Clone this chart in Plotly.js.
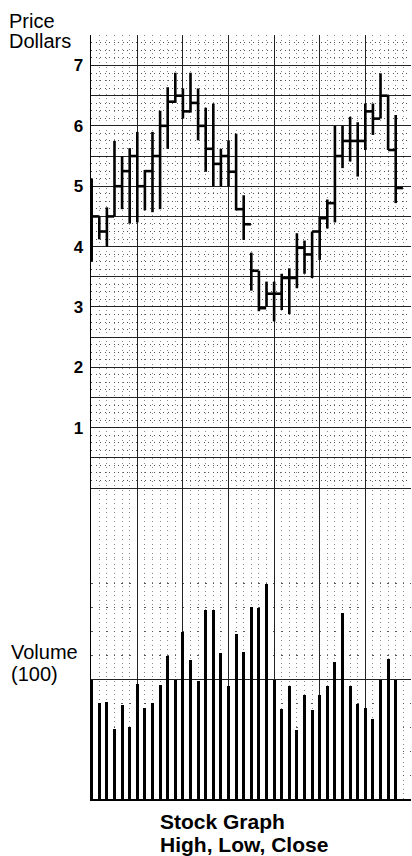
<!DOCTYPE html>
<html><head><meta charset="utf-8">
<script src="https://cdn.plot.ly/plotly-3.0.1.min.js"></script>
<style>html,body{margin:0;padding:0;background:#fff}#chart{width:412px;height:856px}</style>
</head><body><div id="chart"></div>
<script>
// ---- data ----
const days = [0,1,2,3,4,5,6,7,8,9,10,11,12,13,14,15,16,17,18,19,20,21,22,23,24,25,26,27,28,29,30,31,32,33,34,35,36,37,38,39,40];
const highs = [5.13,4.5,4.65,5.75,5.5,5.63,5.9,5.27,5.9,6.25,6.64,6.88,6.62,6.88,6.62,6.3,6.37,5.62,5.76,5.87,4.85,3.9,3.6,3.42,3.42,3.55,3.64,4.22,4.1,4.25,4.5,4.78,6.0,6.0,6.15,6.06,6.37,6.37,6.87,6.5,6.18];
const lows = [3.75,4.12,4.0,4.5,4.62,4.38,4.4,4.6,4.57,4.62,5.62,6.38,6.12,6.22,5.76,5.24,5.0,5.0,5.0,4.6,4.11,3.27,2.93,3.0,2.76,2.95,2.88,3.31,3.55,3.48,3.78,4.3,4.4,5.3,5.41,5.16,5.6,5.85,6.12,5.6,4.72];
const closes = [4.5,4.25,4.5,5.0,5.25,5.5,5.0,5.25,5.5,6.0,6.4,6.5,6.24,6.38,6.0,5.62,5.37,5.5,5.24,4.62,4.37,3.6,2.98,3.22,3.22,3.48,3.48,3.98,3.87,4.25,4.47,4.72,5.5,5.75,5.75,5.75,6.24,6.12,6.5,5.6,4.97];
const volumes = [4.95,4.0,4.05,2.93,3.9,3.0,4.78,3.8,4.0,4.74,5.95,4.95,6.97,5.79,4.92,7.9,7.88,6.07,4.7,6.87,6.13,7.99,7.95,8.95,4.95,3.77,4.7,2.86,4.32,3.72,4.35,4.7,5.72,7.77,4.7,3.95,3.8,3.32,4.95,5.86,4.95];
const priceLabels = ['1','2','3','4','5','6','7'];
const titleLines = ['Stock Graph','High, Low, Close'];

// ---- build high-low-close bars ----
const CLOSE_TICK = 0.95;
const bx = [], by = [];
for (let i = 0; i < days.length; i++) {
  bx.push(days[i], days[i], null, days[i], days[i] + CLOSE_TICK, null);
  by.push(lows[i], highs[i], null, closes[i], closes[i], null);
}

// grid helpers (axis configuration)
const priceMajor = [], priceMajorText = [], priceMinor = [];
for (let v = 0; v <= 7.5001; v += 0.5) {
  priceMajor.push(v);
  const r = Math.round(v);
  priceMajorText.push(Math.abs(v - r) < 1e-9 && r >= 1 && r <= 7 ? priceLabels[r - 1] : '');
}
for (let v = 0.125; v < 7.5; v += 0.125) {
  if (Math.abs(v * 2 - Math.round(v * 2)) > 1e-6) priceMinor.push(+v.toFixed(3));
}

const font = 'Liberation Sans, Arial, Helvetica, sans-serif';
const dotColor = '#555';

const traces = [
  {type:'scatter', mode:'lines', x:bx, y:by, xaxis:'x', yaxis:'y',
   line:{color:'#000', width:2.6}, connectgaps:false, hoverinfo:'skip', showlegend:false},
  {type:'bar', x:days, y:volumes, xaxis:'x', yaxis:'y2', width:0.4,
   marker:{color:'#000', line:{width:0}}, showlegend:false}
];

const volDomainTop = 240/764;

const layout = {
  width:412, height:856,
  margin:{l:91, r:1, t:35, b:57},
  paper_bgcolor:'#fff', plot_bgcolor:'#fff',
  showlegend:false,
  bargap:0,
  xaxis:{domain:[0,1], anchor:'y2', range:[-0.09, 42.01],
    tickmode:'linear', tick0:0, dtick:6, showticklabels:false, ticks:'',
    showgrid:true, gridcolor:'#222', gridwidth:1, zeroline:false,
    showline:true, linecolor:'#000', linewidth:1.5,
    minor:{tickmode:'linear', tick0:0, dtick:1, showgrid:true, gridcolor:'#8a8a8a', gridwidth:1, griddash:'1px,3.5px'}},
  yaxis:{domain:[volDomainTop,1], anchor:'x', range:[-1.175, 7.505],
    tickmode:'array', tickvals:priceMajor, ticktext:priceMajorText, ticks:'',
    ticklabelstandoff:3,
    tickfont:{family:font, size:17, color:'#000', weight:700},
    showgrid:true, gridcolor:'#222', gridwidth:1, zeroline:false,
    showline:true, linecolor:'#000', linewidth:1.5,
    minor:{tickmode:'array', tickvals:priceMinor, showgrid:true, gridcolor:dotColor, gridwidth:1, griddash:'1px,3.5px'}},
  yaxis2:{domain:[0,volDomainTop], anchor:'x', range:[0, 10.01],
    tickmode:'array', tickvals:[0,5,10], showticklabels:false, ticks:'',
    showgrid:true, gridcolor:'#222', gridwidth:1, zeroline:false,
    showline:true, linecolor:'#000', linewidth:1.5,
    minor:{tickmode:'array', tickvals:[1,2,3,4,6,7,8,9], showgrid:true, gridcolor:dotColor, gridwidth:1, griddash:'1.5px,6.1px'}},
  title:{text:''},
  annotations:[
    {text:'Price', xref:'paper', yref:'paper', x:-0.262, y:1.0183, xanchor:'left', yanchor:'middle', showarrow:false, font:{family:font, size:20, color:'#000'}},
    {text:'Dollars', xref:'paper', yref:'paper', x:-0.262, y:0.992, xanchor:'left', yanchor:'middle', showarrow:false, font:{family:font, size:20, color:'#000'}},
    {text:'Volume', xref:'paper', yref:'paper', x:-0.256, y:0.1924, xanchor:'left', yanchor:'middle', showarrow:false, font:{family:font, size:20, color:'#000'}},
    {text:'(100)', xref:'paper', yref:'paper', x:-0.256, y:0.1636, xanchor:'left', yanchor:'middle', showarrow:false, font:{family:font, size:20, color:'#000'}},
    {text:titleLines[0], xref:'paper', yref:'paper', x:0.2094, y:-0.0288, xanchor:'left', yanchor:'middle', showarrow:false, font:{family:font, size:21, color:'#000', weight:700}},
    {text:titleLines[1], xref:'paper', yref:'paper', x:0.2094, y:-0.0602, xanchor:'left', yanchor:'middle', showarrow:false, font:{family:font, size:21, color:'#000', weight:700}}
  ]
};

Plotly.newPlot('chart', traces, layout, {displayModeBar:false, staticPlot:true});
</script>
</body></html>
